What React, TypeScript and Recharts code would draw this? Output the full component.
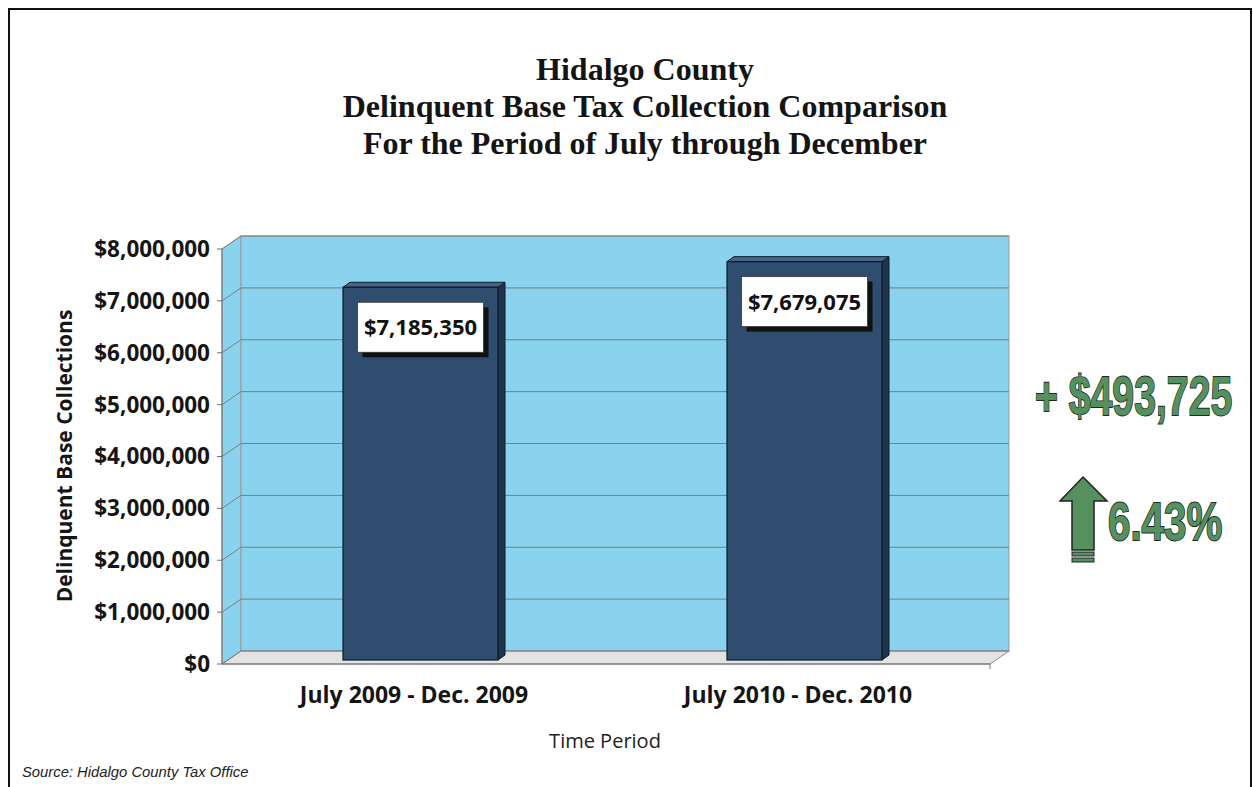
import React from 'react';
import { BarChart, Bar, XAxis, YAxis, CartesianGrid, ReferenceArea, LabelList } from 'recharts';

// ---- data ----
const periods = ['July 2009 - Dec. 2009', 'July 2010 - Dec. 2010'];
const collections = [7185350, 7679075];
const yTicks = [0, 1000000, 2000000, 3000000, 4000000, 5000000, 6000000, 7000000, 8000000];
const titleLines = [
  'Hidalgo County',
  'Delinquent Base Tax Collection Comparison',
  'For the Period of July through December',
];
const yAxisTitle = 'Delinquent Base Collections';
const xAxisTitle = 'Time Period';
const sourceNote = 'Source: Hidalgo County Tax Office';

const data = periods.map((p, i) => ({ period: p, value: collections[i] }));
const diff = collections[1] - collections[0];
const pct = (diff / collections[1]) * 100;

// ---- styles ----
const W = 1253;
const H = 787;
const DX = 19; // wall depth
const DY = -13;
const BDX = 6; // bar position inside depth
const BDY = -4;
const SX = 7; // bar own depth
const SY = -5;
const WALL = '#89d3ef';
const FLOOR = '#e3e3e3';
const GRID = '#7d7d7d';
const BAR_FRONT = '#2f4d6f';
const BAR_SIDE = '#1e3450';
const BAR_TOP = '#46648a';
const BAR_EDGE = '#0f1a28';
const GREEN = '#55905f';
const SANS = '"Open Sans", "Noto Sans", sans-serif';
const SERIF = '"Liberation Serif", "Times New Roman", serif';
const ARIAL = '"Liberation Sans", Arial, sans-serif';

const money = (v: number) => '$' + v.toLocaleString('en-US');

function Wall(props: any) {
  const { x, y, width, height } = props;
  const x2 = x + width;
  const yb = y + height;
  return (
    <g>
      <polygon
        points={`${x},${y} ${x + DX},${y + DY} ${x + DX},${yb + DY} ${x},${yb}`}
        fill={WALL}
        stroke="#9a9a9a"
        strokeWidth={1}
      />
      <rect x={x + DX} y={y + DY} width={width} height={height} fill={WALL} stroke="#9a9a9a" strokeWidth={1} />
      <polygon
        points={`${x},${yb} ${x + DX},${yb + DY} ${x2 + DX},${yb + DY} ${x2},${yb}`}
        fill={FLOOR}
        stroke="#8a8a8a"
        strokeWidth={1}
      />
      <line x1={x2} y1={yb} x2={x2} y2={yb + 5} stroke="#777" strokeWidth={1} />
    </g>
  );
}

const gridLine = (p: any) => {
  const { x1, y1, x2, index } = p;
  return (
    <g key={`g-${index}-${y1}`}>
      <line x1={x1} y1={y1} x2={x1 + DX} y2={y1 + DY} stroke={GRID} strokeWidth={1} />
      <line x1={x1 + DX} y1={y1 + DY} x2={x2 + DX} y2={y1 + DY} stroke={GRID} strokeWidth={1} />
    </g>
  );
};

function Bar3D(props: any) {
  const { x, y, width, height } = props;
  if (width == null || height == null) return null;
  const fx = x + BDX;
  const fy = y + BDY;
  return (
    <g>
      <polygon
        points={`${fx + width},${fy} ${fx + width + SX},${fy + SY} ${fx + width + SX},${fy + height + SY} ${fx + width},${fy + height}`}
        fill={BAR_SIDE}
        stroke={BAR_EDGE}
        strokeWidth={1}
      />
      <polygon
        points={`${fx},${fy} ${fx + SX},${fy + SY} ${fx + width + SX},${fy + SY} ${fx + width},${fy}`}
        fill={BAR_TOP}
        stroke={BAR_EDGE}
        strokeWidth={1}
      />
      <rect x={fx} y={fy} width={width} height={height} fill={BAR_FRONT} stroke={BAR_EDGE} strokeWidth={1.2} />
    </g>
  );
}

function ValueLabel(props: any) {
  const vb = props.viewBox && props.viewBox.width != null ? props.viewBox : props;
  const { x, y, width } = vb;
  const value = props.value;
  if (x == null || value == null) return null;
  const cx = x + BDX + width / 2;
  const bw = 126;
  const bh = 50;
  const top = y + BDY + 15;
  return (
    <g>
      <rect x={cx - bw / 2 + 5} y={top + 5} width={bw} height={bh} fill="#111" />
      <rect x={cx - bw / 2} y={top} width={bw} height={bh} fill="#fff" stroke="#333" strokeWidth={0.8} />
      <text
        x={cx}
        y={top + bh / 2 + 8}
        textAnchor="middle"
        fontFamily={SANS}
        fontWeight={700}
        fontSize={22}
        fill="#111"
      >
        {money(Number(value))}
      </text>
    </g>
  );
}

export default function App() {
  return (
    <div style={{ position: 'absolute', left: 0, top: 0, width: W, height: H, overflow: 'hidden', background: '#fff' }}>
      <BarChart
        width={W}
        height={H}
        data={data}
        margin={{ top: 249, right: 263, bottom: 63, left: 102 }}
        barSize={155}
      >
        <ReferenceArea y1={0} y2={8000000} ifOverflow="visible" shape={Wall} zIndex={-200} />
        <CartesianGrid horizontal={gridLine} vertical={false} />
        <XAxis
          dataKey="period"
          height={60}
          axisLine={{ stroke: '#6e6e6e', strokeWidth: 1 }}
          tickLine={false}
          tickSize={0}
          tickMargin={23}
          tick={{ fontFamily: SANS, fontWeight: 700, fontSize: 23, fill: '#151515' }}
          interval={0}
        />
        <YAxis
          width={120}
          domain={[0, 8000000]}
          ticks={yTicks}
          tickFormatter={money}
          axisLine={{ stroke: '#6e6e6e', strokeWidth: 1 }}
          tickLine={{ stroke: '#6e6e6e', strokeWidth: 1 }}
          tickSize={5}
          tickMargin={7}
          tick={{ fontFamily: SANS, fontWeight: 700, fontSize: 22.5, fill: '#151515' }}
          interval={0}
        />
        <Bar dataKey="value" shape={Bar3D} isAnimationActive={false}>
          <LabelList dataKey="value" content={ValueLabel} />
        </Bar>
      </BarChart>

      <svg
        width={W}
        height={H}
        style={{ position: 'absolute', left: 0, top: 0, pointerEvents: 'none' }}
      >
        <path d={`M9,${H + 5} L9,9 L1251,9 L1251,${H + 5}`} fill="none" stroke="#111" strokeWidth={2} />
        {titleLines.map((t, i) => (
          <text
            key={t}
            x={645}
            y={80 + i * 37}
            textAnchor="middle"
            fontFamily={SERIF}
            fontWeight={700}
            fontSize={32}
            fill="#141414"
          >
            {t}
          </text>
        ))}
        <text
          transform="translate(72,456) rotate(-90)"
          textAnchor="middle"
          fontFamily={SANS}
          fontWeight={700}
          fontSize={21}
          fill="#151515"
        >
          {yAxisTitle}
        </text>
        <text x={605} y={748} textAnchor="middle" fontFamily={SANS} fontSize={20} fill="#222">
          {xAxisTitle}
        </text>
        <text x={22} y={777} fontFamily={ARIAL} fontStyle="italic" fontSize={14.8} fill="#222">
          {sourceNote}
        </text>

        <text
          transform="translate(1035,415) scale(0.7,1)"
          fontFamily={ARIAL}
          fontWeight={700}
          fontSize={56}
          fill={GREEN}
          stroke="#1e2a1e"
          strokeWidth={1.8}
          paintOrder="stroke"
        >
          {'+ ' + money(diff)}
        </text>

        <path
          d="M1083,477 L1107,501 L1094,501 L1094,550 L1072,550 L1072,501 L1060,501 Z"
          fill={GREEN}
          stroke="#222"
          strokeWidth={1.5}
        />
        <rect x={1072} y={552} width={22} height={4} fill={GREEN} stroke="#222" strokeWidth={1} />
        <rect x={1072} y={558} width={22} height={4} fill={GREEN} stroke="#222" strokeWidth={1} />

        <text
          transform="translate(1108,540) scale(0.76,1)"
          fontFamily={ARIAL}
          fontWeight={700}
          fontSize={53}
          fill={GREEN}
          stroke="#1e2a1e"
          strokeWidth={1.8}
          paintOrder="stroke"
        >
          {pct.toFixed(2) + '%'}
        </text>
      </svg>
    </div>
  );
}
